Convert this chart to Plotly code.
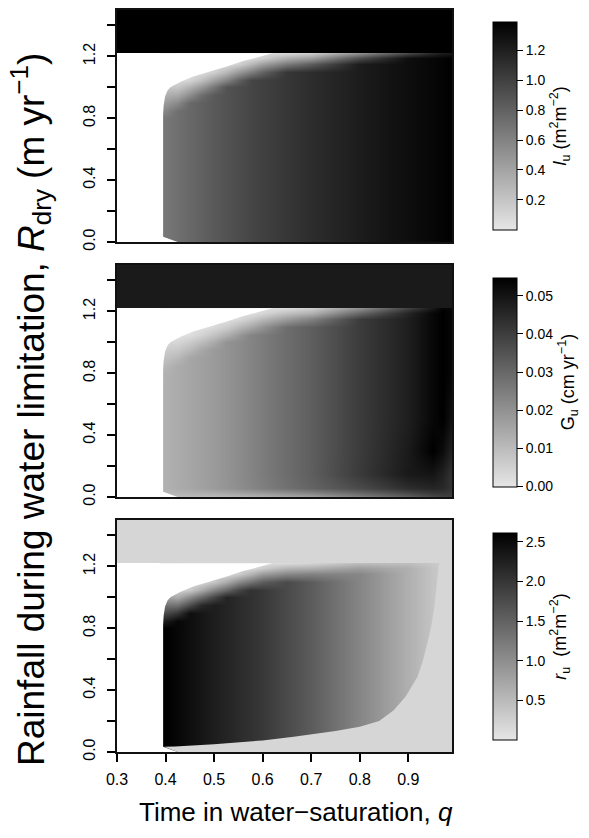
import plotly.graph_objects as go
from plotly.colors import sample_colorscale

# ---------------- data ----------------
q_cols = [0.40, 0.425, 0.45, 0.475, 0.50, 0.525, 0.55, 0.575, 0.60, 0.65,
          0.70, 0.80, 0.90, 0.95, 0.97, 0.99]
r_rows = [0.00, 0.06, 0.15, 0.30, 0.50, 0.70, 0.80, 0.85, 0.90, 0.95, 1.00,
          1.05, 1.10, 1.15, 1.19, 1.22]

lu_table = [
    [0.67, 0.715, 0.76, 0.805, 0.85, 0.89, 0.93, 0.965, 1.00, 1.06, 1.12, 1.22, 1.31, 1.35, 1.37, 1.39],  # 0.00
    [0.67, 0.715, 0.76, 0.805, 0.85, 0.89, 0.93, 0.965, 1.00, 1.06, 1.12, 1.22, 1.31, 1.35, 1.37, 1.39],  # 0.06
    [0.67, 0.715, 0.76, 0.805, 0.85, 0.89, 0.93, 0.965, 1.00, 1.06, 1.12, 1.22, 1.31, 1.35, 1.37, 1.39],  # 0.15
    [0.67, 0.715, 0.76, 0.805, 0.85, 0.89, 0.93, 0.965, 1.00, 1.06, 1.12, 1.22, 1.31, 1.35, 1.37, 1.39],  # 0.30
    [0.67, 0.715, 0.76, 0.805, 0.85, 0.89, 0.93, 0.965, 1.00, 1.06, 1.12, 1.22, 1.31, 1.35, 1.37, 1.39],  # 0.50
    [0.67, 0.715, 0.76, 0.805, 0.85, 0.89, 0.93, 0.965, 1.00, 1.06, 1.12, 1.22, 1.31, 1.35, 1.37, 1.39],  # 0.70
    [0.67, 0.715, 0.76, 0.805, 0.85, 0.89, 0.93, 0.965, 1.00, 1.06, 1.12, 1.22, 1.31, 1.35, 1.37, 1.39],  # 0.80
    [0.59, 0.715, 0.76, 0.805, 0.85, 0.89, 0.93, 0.965, 1.00, 1.06, 1.12, 1.22, 1.31, 1.35, 1.37, 1.39],  # 0.85
    [0.46, 0.565, 0.76, 0.805, 0.85, 0.89, 0.93, 0.965, 1.00, 1.06, 1.12, 1.22, 1.31, 1.35, 1.37, 1.39],  # 0.90
    [0.335, 0.37, 0.54, 0.730, 0.85, 0.89, 0.93, 0.965, 1.00, 1.06, 1.12, 1.22, 1.31, 1.35, 1.37, 1.39],  # 0.95
    [0.20, 0.190, 0.32, 0.480, 0.69, 0.89, 0.93, 0.965, 1.00, 1.06, 1.12, 1.22, 1.31, 1.35, 1.37, 1.39],  # 1.00
    [0.17, 0.070, 0.10, 0.230, 0.42, 0.59, 0.80, 0.965, 1.00, 1.06, 1.12, 1.22, 1.31, 1.35, 1.37, 1.39],  # 1.05
    [0.15, 0.060, 0.053, 0.056, 0.145, 0.28, 0.465, 0.62, 0.79, 1.06, 1.12, 1.22, 1.31, 1.35, 1.37, 1.39],  # 1.10
    [0.12, 0.060, 0.05, 0.050, 0.06, 0.06, 0.13, 0.27, 0.43, 0.65, 0.83, 1.22, 1.31, 1.35, 1.37, 1.39],  # 1.15
    [0.10, 0.050, 0.05, 0.050, 0.05, 0.05, 0.06, 0.07, 0.14, 0.33, 0.44, 0.92, 1.31, 1.35, 1.37, 1.39],  # 1.19
    [0.08, 0.050, 0.05, 0.050, 0.05, 0.05, 0.05, 0.05, 0.07, 0.08, 0.15, 0.52, 0.95, 1.15, 1.22, 1.26],  # 1.22
]

gu_table = [
    [0.0100, 0.0100, 0.0100, 0.0100, 0.0100, 0.0105, 0.0110, 0.0115, 0.0120, 0.0140, 0.0160, 0.0240, 0.0320, 0.0370, 0.0390, 0.0400],  # 0.00
    [0.0125, 0.0138, 0.0150, 0.0164, 0.0178, 0.0194, 0.0210, 0.0228, 0.0245, 0.0278, 0.0310, 0.0370, 0.0440, 0.0460, 0.0450, 0.0420],  # 0.06
    [0.0128, 0.0140, 0.0152, 0.0166, 0.0180, 0.0197, 0.0214, 0.0233, 0.0252, 0.0288, 0.0323, 0.0410, 0.0490, 0.0500, 0.0470, 0.0420],  # 0.15
    [0.0128, 0.0140, 0.0152, 0.0166, 0.0180, 0.0197, 0.0214, 0.0233, 0.0252, 0.0288, 0.0323, 0.0405, 0.0485, 0.0548, 0.0520, 0.0460],  # 0.30
    [0.0128, 0.0140, 0.0152, 0.0166, 0.0180, 0.0197, 0.0214, 0.0233, 0.0252, 0.0288, 0.0323, 0.0405, 0.0476, 0.0530, 0.0548, 0.0500],  # 0.50
    [0.0128, 0.0140, 0.0152, 0.0166, 0.0180, 0.0197, 0.0214, 0.0233, 0.0252, 0.0288, 0.0323, 0.0405, 0.0476, 0.0530, 0.0548, 0.0520],  # 0.70
    [0.0126, 0.0140, 0.0152, 0.0166, 0.0180, 0.0197, 0.0214, 0.0233, 0.0252, 0.0288, 0.0323, 0.0405, 0.0476, 0.0530, 0.0548, 0.0530],  # 0.80
    [0.0113, 0.0140, 0.0152, 0.0166, 0.0180, 0.0197, 0.0214, 0.0233, 0.0252, 0.0288, 0.0323, 0.0405, 0.0476, 0.0530, 0.0548, 0.0530],  # 0.85
    [0.0087, 0.0111, 0.0152, 0.0166, 0.0180, 0.0197, 0.0214, 0.0233, 0.0252, 0.0288, 0.0323, 0.0405, 0.0476, 0.0530, 0.0548, 0.0530],  # 0.90
    [0.0064, 0.0073, 0.0108, 0.0151, 0.0180, 0.0197, 0.0214, 0.0233, 0.0252, 0.0288, 0.0323, 0.0405, 0.0476, 0.0530, 0.0548, 0.0530],  # 0.95
    [0.0038, 0.0036, 0.0064, 0.0100, 0.0146, 0.0197, 0.0214, 0.0233, 0.0252, 0.0288, 0.0323, 0.0405, 0.0476, 0.0530, 0.0548, 0.0530],  # 1.00
    [0.0032, 0.0014, 0.0020, 0.0048, 0.0088, 0.0130, 0.0184, 0.0233, 0.0252, 0.0288, 0.0323, 0.0405, 0.0476, 0.0530, 0.0548, 0.0530],  # 1.05
    [0.0028, 0.0012, 0.0011, 0.0012, 0.0031, 0.0061, 0.0107, 0.0149, 0.0199, 0.0288, 0.0323, 0.0405, 0.0476, 0.0530, 0.0548, 0.0530],  # 1.10
    [0.0024, 0.0012, 0.0012, 0.0012, 0.0012, 0.0012, 0.0030, 0.0065, 0.0108, 0.0176, 0.0239, 0.0405, 0.0476, 0.0530, 0.0548, 0.0530],  # 1.15
    [0.0020, 0.0012, 0.0012, 0.0012, 0.0012, 0.0012, 0.0012, 0.0016, 0.0035, 0.0089, 0.0126, 0.0300, 0.0460, 0.0530, 0.0548, 0.0530],  # 1.19
    [0.0016, 0.0012, 0.0012, 0.0012, 0.0012, 0.0012, 0.0012, 0.0012, 0.0013, 0.0025, 0.0060, 0.0204, 0.0395, 0.0490, 0.0540, 0.0530],  # 1.22
]

ru_table = [
    [2.61, 2.53, 2.45, 2.36, 2.27, 2.20, 2.12, 2.05, 1.97, 1.77, 1.56, 1.09, 0.61, 0.38, 0.28, 0.18],  # 0.00
    [2.61, 2.53, 2.45, 2.36, 2.27, 2.20, 2.12, 2.05, 1.97, 1.77, 1.56, 1.09, 0.61, 0.38, 0.28, 0.18],  # 0.06
    [2.61, 2.53, 2.45, 2.36, 2.27, 2.20, 2.12, 2.05, 1.97, 1.77, 1.56, 1.09, 0.61, 0.38, 0.28, 0.18],  # 0.15
    [2.61, 2.53, 2.45, 2.36, 2.27, 2.20, 2.12, 2.05, 1.97, 1.77, 1.56, 1.09, 0.61, 0.38, 0.28, 0.18],  # 0.30
    [2.61, 2.53, 2.45, 2.36, 2.27, 2.20, 2.12, 2.05, 1.97, 1.77, 1.56, 1.09, 0.61, 0.38, 0.28, 0.18],  # 0.50
    [2.61, 2.53, 2.45, 2.36, 2.27, 2.20, 2.12, 2.05, 1.97, 1.77, 1.56, 1.09, 0.61, 0.38, 0.28, 0.18],  # 0.70
    [2.61, 2.53, 2.45, 2.36, 2.27, 2.20, 2.12, 2.05, 1.97, 1.77, 1.56, 1.09, 0.61, 0.38, 0.28, 0.18],  # 0.80
    [2.30, 2.53, 2.45, 2.36, 2.27, 2.20, 2.12, 2.05, 1.97, 1.77, 1.56, 1.09, 0.61, 0.38, 0.28, 0.18],  # 0.85
    [1.77, 2.00, 2.45, 2.36, 2.27, 2.20, 2.12, 2.05, 1.97, 1.77, 1.56, 1.09, 0.61, 0.38, 0.28, 0.18],  # 0.90
    [1.31, 1.32, 1.74, 2.15, 2.27, 2.20, 2.12, 2.05, 1.97, 1.77, 1.56, 1.09, 0.61, 0.38, 0.28, 0.18],  # 0.95
    [0.78, 0.66, 1.03, 1.42, 1.84, 2.20, 2.12, 2.05, 1.97, 1.77, 1.56, 1.09, 0.61, 0.38, 0.28, 0.18],  # 1.00
    [0.65, 0.25, 0.32, 0.68, 1.11, 1.45, 1.82, 2.05, 1.97, 1.77, 1.56, 1.09, 0.61, 0.38, 0.28, 0.18],  # 1.05
    [0.55, 0.20, 0.17, 0.17, 0.39, 0.68, 1.06, 1.31, 1.56, 1.77, 1.56, 1.09, 0.61, 0.38, 0.28, 0.18],  # 1.10
    [0.45, 0.20, 0.17, 0.17, 0.16, 0.15, 0.30, 0.57, 0.85, 1.08, 1.15, 1.09, 0.61, 0.38, 0.28, 0.18],  # 1.15
    [0.35, 0.18, 0.17, 0.17, 0.16, 0.15, 0.15, 0.14, 0.28, 0.55, 0.61, 0.82, 0.61, 0.38, 0.28, 0.18],  # 1.19
    [0.25, 0.18, 0.16, 0.15, 0.14, 0.13, 0.12, 0.12, 0.12, 0.13, 0.21, 0.47, 0.45, 0.33, 0.26, 0.18],  # 1.22
]

# constant region above the water-limitation threshold
band_q = [0.30, 0.99]
band_r = [1.22, 1.50]
band_lu = 1.39
band_gu = 0.0486
band_ru = 0.18

# no-solution (blank) region, outline
mask_q = [0.30, 0.30, 0.62, 0.595, 0.56, 0.526, 0.49, 0.457, 0.43, 0.41, 0.404,
          0.399, 0.396, 0.395, 0.395, 0.425, 0.30]
mask_r = [0.00, 1.22, 1.22, 1.20, 1.17, 1.135, 1.10, 1.07, 1.035, 1.00, 0.98,
          0.94, 0.88, 0.82, 0.034, 0.00, 0.00]

# r_u floor region (lower right of bottom panel)
floor_q = [0.397, 0.42, 0.50, 0.60, 0.664, 0.75, 0.80, 0.84, 0.87, 0.895, 0.919,
           0.93, 0.939, 0.947, 0.953, 0.958, 0.963, 0.965, 0.99, 0.99, 0.425, 0.397]
floor_r = [0.034, 0.036, 0.05, 0.075, 0.099, 0.135, 0.164, 0.20, 0.27, 0.36, 0.487,
           0.59, 0.70, 0.81, 0.92, 1.05, 1.21, 1.22, 1.22, 0.00, 0.00, 0.034]
ru_floor = 0.18

lu_range = [0.0, 1.39]
gu_range = [0.0, 0.0548]
ru_range = [0.0, 2.61]

lu_ticks = [0.2, 0.4, 0.6, 0.8, 1.0, 1.2]
gu_ticks = [0.00, 0.01, 0.02, 0.03, 0.04, 0.05]
ru_ticks = [0.5, 1.0, 1.5, 2.0, 2.5]

x_ticks = [0.3, 0.4, 0.5, 0.6, 0.7, 0.8, 0.9]
y_ticks = [0.0, 0.4, 0.8, 1.2]
y_minor_step = 0.2

# ---------------- figure ----------------
FONT = "Liberation Sans, Arial, Helvetica, sans-serif"
gray = [[0.0, "#e6e6e6"], [1.0, "#000000"]]

W, H = 589, 838
L, R, T, B = 117, 137, 10, 86
plot_h = H - T - B
plot_w = W - L - R

def py(px):
    return (H - B - px) / plot_h

def pxx(px):
    return (px - L) / plot_w

panels = [
    dict(z=lu_table, band=band_lu, rng=lu_range, ticks=lu_ticks, fmt=".1f",
         title="<i>l</i><sub>u</sub> (m<sup>2</sup>m<sup>−2</sup>)", top=10, bot=242, cb=(21.7, 230)),
    dict(z=gu_table, band=band_gu, rng=gu_range, ticks=gu_ticks, fmt=".2f",
         title="G<sub>u</sub> (cm yr<sup>−1</sup>)", top=265, bot=497, cb=(277.3, 486.7)),
    dict(z=ru_table, band=band_ru, rng=ru_range, ticks=ru_ticks, fmt=".1f",
         title="<i>r</i><sub>u</sub>  (m<sup>2</sup>m<sup>−2</sup>)", top=520, bot=752, cb=(533, 740)),
]

fig = go.Figure()
layout = dict(
    width=W, height=H,
    margin=dict(l=L, r=R, t=T, b=B, pad=0, autoexpand=False),
    paper_bgcolor="white", plot_bgcolor="white",
    font=dict(family=FONT, color="black", size=15),
    showlegend=False,
)

for i, p in enumerate(panels):
    n = "" if i == 0 else str(i + 1)
    xa, ya = "x" + n, "y" + n
    ca = "coloraxis" + n
    fig.add_trace(go.Heatmap(x=q_cols, y=r_rows, z=p["z"], coloraxis=ca,
                             zsmooth="best", xaxis=xa, yaxis=ya, hoverinfo="skip"))
    if i == 2:
        fc = sample_colorscale(gray, [(ru_floor - ru_range[0]) / (ru_range[1] - ru_range[0])])[0]
        fig.add_trace(go.Scatter(x=floor_q, y=floor_r, mode="lines", fill="toself",
                                 fillcolor=fc, line=dict(width=0, color=fc),
                                 xaxis=xa, yaxis=ya, hoverinfo="skip"))
    fig.add_trace(go.Scatter(x=mask_q, y=mask_r, mode="lines", fill="toself",
                             fillcolor="white", line=dict(width=0, color="white"),
                             xaxis=xa, yaxis=ya, hoverinfo="skip"))
    fig.add_trace(go.Heatmap(x=band_q, y=band_r, z=[[p["band"]]], coloraxis=ca,
                             xaxis=xa, yaxis=ya, hoverinfo="skip"))

    cb_top, cb_bot = p["cb"]
    layout[ca] = dict(
        cmin=p["rng"][0], cmax=p["rng"][1], colorscale=gray,
        colorbar=dict(
            x=pxx(493), xanchor="left", xpad=0, ypad=0,
            y=py((cb_top + cb_bot) / 2), yanchor="middle",
            lenmode="pixels", len=cb_bot - cb_top, thickness=24,
            outlinewidth=1, outlinecolor="black",
            tickvals=p["ticks"], tickformat=p["fmt"], tickprefix="\u00a0",
            ticks="outside", ticklen=6, tickwidth=1, tickcolor="black",
            tickfont=dict(size=14, family=FONT),
            title=dict(text=p["title"], side="right", font=dict(size=18, family=FONT)),
        ),
    )
    bottom = (i == 2)
    xdict = dict(
        domain=[0, 1], anchor=ya, range=[0.3, 0.99],
        showgrid=False, zeroline=False,
        showline=True, linecolor="#111", linewidth=1.5, mirror=True,
        showticklabels=bottom,
    )
    if bottom:
        xdict.update(tickvals=x_ticks, ticktext=[f"{v:.1f}" for v in x_ticks],
                     ticks="outside", ticklen=8, tickwidth=1.5, tickcolor="black",
                     tickfont=dict(size=16), ticklabelstandoff=4)
    else:
        xdict.update(ticks="", tickvals=[])
    layout["xaxis" + n] = xdict
    layout["yaxis" + n] = dict(
        domain=[py(p["bot"]), py(p["top"])], anchor=xa, range=[0, 1.5],
        showgrid=False, zeroline=False,
        showline=True, linecolor="#111", linewidth=1.5, mirror=True,
        tickvals=y_ticks, ticktext=[f"{v:.1f}" for v in y_ticks],
        ticks="outside", ticklen=8, tickwidth=1.5, tickcolor="black",
        minor=dict(tick0=0, dtick=y_minor_step, ticks="outside", ticklen=8,
                   tickwidth=1.5, tickcolor="black", showgrid=False),
        tickangle=-90, tickfont=dict(size=16), ticklabelstandoff=6,
    )

layout["annotations"] = [
    dict(text="Time in water−saturation, <i>q</i>", xref="paper", yref="paper",
         x=pxx(296), y=py(812), xanchor="center", yanchor="middle",
         showarrow=False, font=dict(size=26, family=FONT)),
    dict(text="Rainfall during water limitation, <i>R</i><sub>dry</sub> (m yr<sup>−1</sup>)",
         xref="paper", yref="paper", x=pxx(30), y=py(410), xanchor="center", yanchor="middle",
         textangle=-90, showarrow=False, font=dict(size=37, family=FONT)),
]

fig.update_layout(**layout)
fig.write_html("out.html", config={"displayModeBar": False},
               post_script="document.body.style.margin='0px';")
